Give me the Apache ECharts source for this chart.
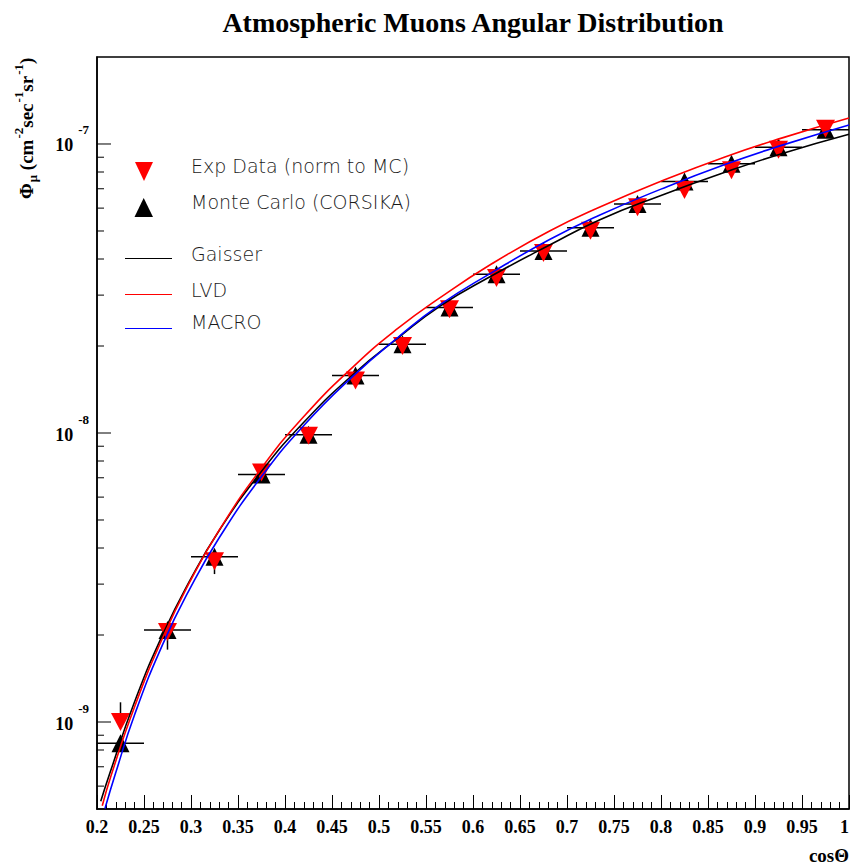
<!DOCTYPE html>
<html><head><meta charset="utf-8">
<script src="https://cdn.jsdelivr.net/npm/echarts@6/dist/echarts.min.js"></script>
<style>html,body{margin:0;padding:0;background:#fff}#c{width:851px;height:864px}</style>
</head><body><div id="c"></div>
<script>
// ---- data ----
const cosTheta = [0.225,0.275,0.325,0.375,0.425,0.475,0.525,0.575,0.625,0.675,0.725,0.775,0.825,0.875,0.925,0.975];
const binHalfWidth = 0.025;
const expData = [1.00e-9,2.05e-9,3.60e-9,7.30e-9,9.79e-9,1.52e-8,2.00e-8,2.68e-8,3.44e-8,4.20e-8,5.01e-8,6.04e-8,6.93e-8,8.12e-8,9.56e-8,1.13e-7];
const mcData  = [8.44e-10,2.08e-9,3.73e-9,7.19e-9,9.87e-9,1.58e-8,2.03e-8,2.72e-8,3.54e-8,4.26e-8,5.13e-8,6.20e-8,7.41e-8,8.55e-8,9.75e-8,1.12e-7];
const expErrUp   = [0.17e-9,0,0,0,0,0,0,0,0,0,0,0,0,0,0,0];
const expErrDown = [0,0.27e-9,0.35e-9,0,0,0,0,0,0,0,0,0,0,0,0,0];
const gaisserCurve = [[0.204,5.32e-10],[0.2138,6.67e-10],[0.24,1.175e-9],[0.27,2.01e-9],[0.30,3.14e-9],[0.33,4.60e-9],[0.373,7.23e-9],[0.42,1.089e-8],[0.473,1.60e-8],[0.52,2.13e-8],[0.565,2.75e-8],[0.62,3.50e-8],[0.682,4.48e-8],[0.735,5.47e-8],[0.80,6.64e-8],[0.868,7.98e-8],[0.93,9.29e-8],[1.0,1.08e-7]];
const lvdCurve = [[0.2056,5.13e-10],[0.215,6.53e-10],[0.24,1.13e-9],[0.27,1.96e-9],[0.30,3.11e-9],[0.33,4.61e-9],[0.373,7.41e-9],[0.42,1.14e-8],[0.473,1.70e-8],[0.52,2.30e-8],[0.565,2.94e-8],[0.62,3.85e-8],[0.682,5.01e-8],[0.735,6.05e-8],[0.80,7.43e-8],[0.868,9.02e-8],[0.93,1.052e-7],[1.0,1.23e-7]];
const macroCurve = [[0.2085,5.02e-10],[0.2199,6.67e-10],[0.24,1.06e-9],[0.27,1.86e-9],[0.30,2.94e-9],[0.33,4.34e-9],[0.373,6.93e-9],[0.42,1.062e-8],[0.473,1.58e-8],[0.52,2.14e-8],[0.565,2.78e-8],[0.62,3.59e-8],[0.682,4.68e-8],[0.735,5.68e-8],[0.80,6.98e-8],[0.868,8.49e-8],[0.93,9.93e-8],[1.0,1.164e-7]];
const yMajorTicks = [1e-9,1e-8,1e-7];
const yMinorTicks = [6e-10,7e-10,8e-10,9e-10,2e-9,3e-9,4e-9,5e-9,6e-9,7e-9,8e-9,9e-9,2e-8,3e-8,4e-8,5e-8,6e-8,7e-8,8e-8,9e-8];
const legendLabels = ['Exp Data (norm to MC)','Monte Carlo (CORSIKA)','Gaisser','LVD','MACRO'];

// ---- chart ----
const SERIF = '"Liberation Serif","Times New Roman",serif';
const LEGFONT = '200 19px "DejaVu Sans"';
const chart = echarts.init(document.getElementById('c'), null, {renderer:'svg'});

const tickData = yMajorTicks.map(v => [0.2, v, 14]).concat(yMinorTicks.map(v => [0.2, v, 7]));

chart.setOption({
  backgroundColor:'#fff',
  animation:false,
  title:{text:'Atmospheric Muons Angular Distribution', left:468, top:3, textAlign:'center',
    textStyle:{fontFamily:SERIF, fontWeight:'bold', fontSize:28, color:'#000'}},
  grid:{left:97, right:2, top:57, bottom:55, show:true, borderColor:'#000', borderWidth:1.5, containLabel:false, outerBoundsMode:'none'},
  xAxis:{type:'value', min:0.2, max:1, interval:0.05,
    axisLine:{show:true, lineStyle:{color:'#000', width:1.5}},
    axisTick:{show:true, inside:true, length:14, lineStyle:{color:'#000', width:1}},
    minorTick:{show:true, splitNumber:5, length:7, lineStyle:{color:'#000', width:1}},
    splitLine:{show:false}, minorSplitLine:{show:false},
    axisLabel:{margin:9, color:'#000', fontFamily:SERIF, fontWeight:'bold', fontSize:18, alignMaxLabel:'right'}},
  yAxis:{type:'log', logBase:10, min:5e-10, max:2e-7,
    axisLine:{show:true, lineStyle:{color:'#000', width:1.5}},
    axisTick:{show:false}, splitLine:{show:false}, minorTick:{show:false},
    axisLabel:{margin:8, color:'#000',
      formatter: v => { const e = Math.log10(v); const r = Math.round(e); if (Math.abs(e - r) > 1e-6) return ''; return '{b|10}{s|' + r + '}'; },
      rich:{
        b:{fontFamily:SERIF, fontWeight:'bold', fontSize:18, color:'#000', padding:[3,0,0,0]},
        s:{fontFamily:SERIF, fontWeight:'bold', fontSize:13, color:'#000', padding:[0,0,28,5]}
      }}},
  graphic:[
    {type:'text', x:26, y:199, rotation:Math.PI/2, z:10,
      style:{text:'{m|Φ}{sub|μ}{m| (cm}{sup|-2}{m|sec}{sup|-1}{m|sr}{sup|-1}{m|)}',
        align:'left', verticalAlign:'middle', textAlign:'left', textVerticalAlign:'middle', fill:'#000',
        rich:{
          m:{fontFamily:SERIF, fontWeight:'bold', fontSize:19, fill:'#000', color:'#000'},
          sub:{fontFamily:SERIF, fontWeight:'bold', fontSize:13, fill:'#000', color:'#000', padding:[12,0,0,1]},
          sup:{fontFamily:SERIF, fontWeight:'bold', fontSize:13, fill:'#000', color:'#000', padding:[0,0,16,1]}
        }}},
    {type:'text', x:849, y:855, z:10, style:{text:'cosΘ', font:'bold 19px ' + SERIF, fill:'#000', align:'right', verticalAlign:'middle', textAlign:'right', textVerticalAlign:'middle'}},
    {type:'polygon', z:10, shape:{points:[[135,162],[153,162],[144,181]]}, style:{fill:'#ff0000'}},
    {type:'polygon', z:10, shape:{points:[[134.5,217],[153,217],[143.7,198]]}, style:{fill:'#000'}},
    {type:'line', z:10, shape:{x1:125,y1:258.5,x2:172,y2:258.5}, style:{stroke:'#000', lineWidth:1}},
    {type:'line', z:10, shape:{x1:125,y1:294.5,x2:172,y2:294.5}, style:{stroke:'#ff0000', lineWidth:1}},
    {type:'line', z:10, shape:{x1:125,y1:328.5,x2:172,y2:328.5}, style:{stroke:'#0000ff', lineWidth:1}},
    {type:'text', z:10, x:191, y:166, style:{text:legendLabels[0], font:LEGFONT, fill:'#1a1a1a', verticalAlign:'middle', textVerticalAlign:'middle'}},
    {type:'text', z:10, x:191, y:202, style:{text:legendLabels[1], font:LEGFONT, fill:'#1a1a1a', verticalAlign:'middle', textVerticalAlign:'middle'}},
    {type:'text', z:10, x:191, y:253.5, style:{text:legendLabels[2], font:LEGFONT, fill:'#1a1a1a', verticalAlign:'middle', textVerticalAlign:'middle'}},
    {type:'text', z:10, x:191, y:289.5, style:{text:legendLabels[3], font:LEGFONT, fill:'#1a1a1a', verticalAlign:'middle', textVerticalAlign:'middle'}},
    {type:'text', z:10, x:191, y:322, style:{text:legendLabels[4], font:LEGFONT, fill:'#1a1a1a', verticalAlign:'middle', textVerticalAlign:'middle'}}
  ],
  series:[
    {type:'custom', name:'yTicks', silent:true, clip:false, z:6,
      data:tickData,
      renderItem:(params, api) => {
        const p = api.coord([api.value(0), api.value(1)]);
        return {type:'line', shape:{x1:p[0], y1:p[1], x2:p[0] + api.value(2), y2:p[1]}, style:{stroke:'#000', lineWidth:1}};
      }},
    {type:'custom', name:'MC x-errors', silent:true, z:2,
      data:cosTheta.map((x, i) => [x, mcData[i]]),
      renderItem:(params, api) => {
        const x = api.value(0), y = api.value(1);
        const a = api.coord([x - binHalfWidth, y]), b = api.coord([x + binHalfWidth, y]);
        return {type:'line', shape:{x1:a[0], y1:a[1], x2:b[0], y2:b[1]}, style:{stroke:'#000', lineWidth:1.5}};
      }},
    {type:'custom', name:'Exp y-errors', silent:true, z:2,
      data:cosTheta.map((x, i) => [x, expData[i], expErrDown[i], expErrUp[i]]),
      renderItem:(params, api) => {
        const x = api.value(0), y = api.value(1), lo = api.value(2), hi = api.value(3);
        if (!lo && !hi) return null;
        const a = api.coord([x, y - lo]), b = api.coord([x, y + hi]);
        return {type:'line', shape:{x1:a[0], y1:a[1], x2:b[0], y2:b[1]}, style:{stroke:'#000', lineWidth:1.5}};
      }},
    {type:'scatter', name:'Monte Carlo (CORSIKA)', z:3, symbol:'triangle', symbolSize:[18,18],
      itemStyle:{color:'#000', opacity:1}, data:cosTheta.map((x, i) => [x, mcData[i]])},
    {type:'scatter', name:'Exp Data (norm to MC)', z:4, symbol:'triangle', symbolSize:[19,18], symbolRotate:180,
      itemStyle:{color:'#ff0000', opacity:1}, data:cosTheta.map((x, i) => [x, expData[i]])},
    {type:'line', name:'Gaisser', z:5, data:gaisserCurve, smooth:0.5, showSymbol:false, symbol:'none',
      lineStyle:{color:'#000', width:1.6}},
    {type:'line', name:'LVD', z:5, data:lvdCurve, smooth:0.5, showSymbol:false, symbol:'none',
      lineStyle:{color:'#ff0000', width:1.6}},
    {type:'line', name:'MACRO', z:5, data:macroCurve, smooth:0.5, showSymbol:false, symbol:'none',
      lineStyle:{color:'#0000ff', width:1.6}}
  ]
});
</script></body></html>
